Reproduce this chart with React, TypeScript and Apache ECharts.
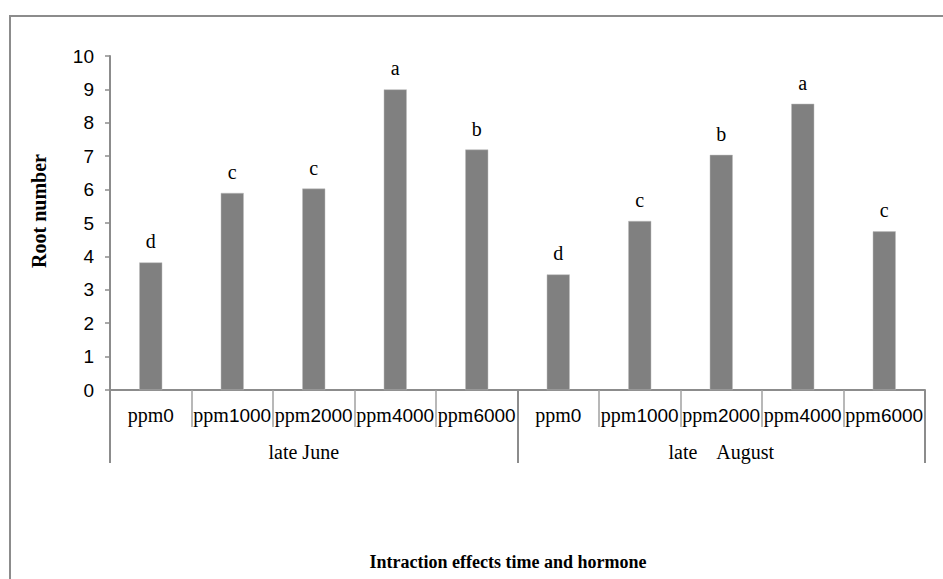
import React, { useEffect, useRef } from "react";
import * as echarts from "echarts";

const doses = ["0", "1000", "2000", "4000", "6000", "0", "1000", "2000", "4000", "6000"];
const periods = ["late June    ", "late    August"];
const rootNumber = [3.82, 5.9, 6.03, 9.0, 7.2, 3.46, 5.06, 7.04, 8.57, 4.75];
const letters = ["d", "c", "c", "a", "b", "d", "c", "b", "a", "c"];
const yTicks = { min: 0, max: 10, interval: 1 };

const SERIF = "Liberation Serif";
const SANS = "Liberation Sans";
const GREY = "#8c8c8c";

export default function App() {
  const ref = useRef<HTMLDivElement>(null);
  useEffect(() => {
    if (!ref.current) return;
    const chart = echarts.init(ref.current, null, { renderer: "svg" });
    chart.setOption({
      animation: false,
      backgroundColor: "#ffffff",
      grid: { left: 110, right: 18, top: 56, bottom: 189, containLabel: false },
      xAxis: [
        {
          type: "category",
          data: doses,
          position: "bottom",
          axisLine: { show: true, lineStyle: { color: GREY, width: 2 } },
          axisTick: { show: true, interval: 0, length: 37, lineStyle: { color: "#a0a0a0", width: 1.5 } },
          axisLabel: {
            interval: 0,
            margin: 15,
            fontFamily: SERIF,
            fontSize: 20,
            color: "#000",
            formatter: (v: string) => `{p|ppm}{n|${v}}`,
            rich: {
              p: { fontFamily: SERIF, fontSize: 20, color: "#000" },
              n: { fontFamily: SANS, fontSize: 19, color: "#000" },
            },
          },
        },
        {
          type: "category",
          data: periods,
          position: "bottom",
          offset: 0,
          axisLine: { show: false },
          axisTick: { show: true, interval: 0, length: 73, lineStyle: { color: GREY, width: 2 } },
          axisLabel: {
            interval: 0,
            margin: 52,
            fontFamily: SERIF,
            fontSize: 20,
            color: "#000",
          },
        },
      ],
      yAxis: {
        type: "value",
        min: yTicks.min,
        max: yTicks.max,
        interval: yTicks.interval,
        axisLine: { show: true, lineStyle: { color: GREY, width: 2 } },
        axisTick: { show: true, length: 5, lineStyle: { color: GREY, width: 1.5 } },
        splitLine: { show: false },
        axisLabel: { margin: 16, fontFamily: SANS, fontSize: 19, color: "#000" },
      },
      series: [
        {
          type: "bar",
          xAxisIndex: 0,
          data: rootNumber,
          barWidth: 23,
          itemStyle: { color: "#808080", borderColor: "#bdbdbd", borderWidth: 0.5 },
          label: {
            show: true,
            position: "top",
            distance: 11,
            formatter: (p: any) => letters[p.dataIndex],
            fontFamily: SERIF,
            fontSize: 20,
            color: "#000",
          },
        },
      ],
      graphic: [
        {
          type: "rect",
          shape: { x: 10, y: 16, width: 960, height: 600 },
          style: { fill: "none", stroke: GREY, lineWidth: 2 },
          silent: true,
        },
        {
          type: "text",
          x: 39,
          y: 211,
          rotation: Math.PI / 2,
          style: {
            text: "Root number",
            fontFamily: SERIF,
            fontSize: 20,
            fontWeight: "bold",
            fill: "#000",
            align: "center",
            verticalAlign: "middle",
          },
        },
        {
          type: "text",
          x: 508,
          y: 562,
          style: {
            text: "Intraction effects time and hormone",
            fontFamily: SERIF,
            fontSize: 18,
            fontWeight: "bold",
            fill: "#000",
            align: "center",
            verticalAlign: "middle",
          },
        },
      ],
    });
    return () => chart.dispose();
  }, []);
  return (
    <div
      ref={ref}
      style={{ position: "fixed", left: 0, top: 0, width: 943, height: 579, background: "#fff" }}
    />
  );
}
